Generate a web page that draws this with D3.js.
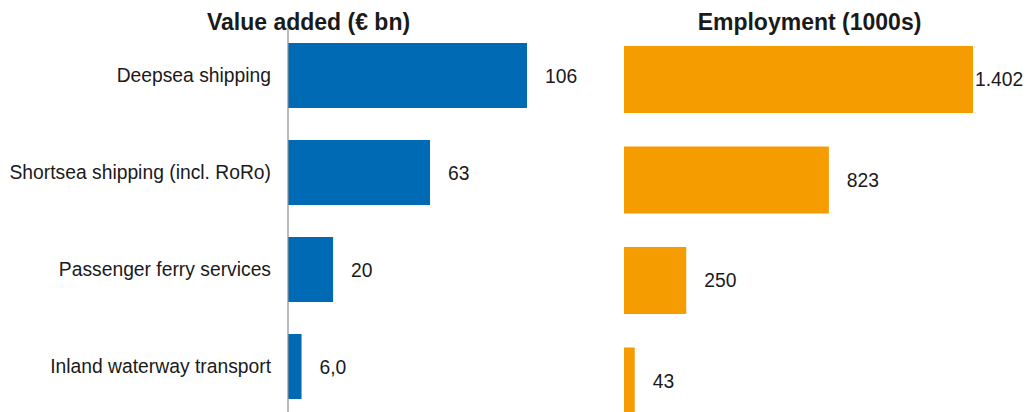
<!DOCTYPE html>
<html>
<head>
<meta charset="utf-8">
<script src="https://cdn.jsdelivr.net/npm/d3@7/dist/d3.min.js"></script>
<style>
  body { margin: 0; background: #fff; }
  text { font-family: "Liberation Sans", Arial, sans-serif; fill: #1a1a1a; }
</style>
</head>
<body>
<script>
const categories = ["Deepsea shipping", "Shortsea shipping (incl. RoRo)", "Passenger ferry services", "Inland waterway transport"];
const valueAdded = [106, 63, 20, 6.0];
const valueAddedLabels = ["106", "63", "20", "6,0"];
const employment = [1402, 823, 250, 43];
const employmentLabels = ["1.402", "823", "250", "43"];

const width = 1030, height = 412;

const svg = d3.select("body").append("svg")
    .attr("width", width)
    .attr("height", height);

// left panel: value added
const xL = d3.scaleLinear().domain([0, 106]).range([288, 527]);
const yL = d3.scaleBand().domain(categories).range([27, 415]).paddingInner(0.33).paddingOuter(0.165);

svg.append("text")
    .attr("x", 308.5).attr("y", 30)
    .attr("text-anchor", "middle")
    .style("font-size", "23px").style("font-weight", "bold")
    .text("Value added (€ bn)");

svg.selectAll(".barL")
    .data(valueAdded)
    .enter().append("rect")
    .attr("class", "barL")
    .attr("x", xL(0))
    .attr("y", (d, i) => yL(categories[i]))
    .attr("width", d => xL(d) - xL(0))
    .attr("height", yL.bandwidth())
    .attr("fill", "#006ab4");

svg.selectAll(".valL")
    .data(valueAdded)
    .enter().append("text")
    .attr("class", "valL")
    .attr("x", d => xL(d) + 18)
    .attr("y", (d, i) => yL(categories[i]) + yL.bandwidth() / 2 + 1)
    .attr("dy", "0.35em")
    .style("font-size", "19.3px")
    .text((d, i) => valueAddedLabels[i]);

svg.selectAll(".cat")
    .data(categories)
    .enter().append("text")
    .attr("class", "cat")
    .attr("x", 271)
    .attr("y", d => yL(d) + yL.bandwidth() / 2)
    .attr("dy", "0.35em")
    .attr("text-anchor", "end")
    .style("font-size", "19.3px")
    .text(d => d);

svg.append("line")
    .attr("x1", 288).attr("x2", 288)
    .attr("y1", 28).attr("y2", height)
    .attr("stroke", "#8c8c8c").attr("stroke-width", 1.2);

// right panel: employment
const xR = d3.scaleLinear().domain([0, 1402]).range([624, 973]);
const yR = d3.scaleBand().domain(categories).range([29.25, 431.25]).paddingInner(0.333).paddingOuter(0.1665);

svg.append("text")
    .attr("x", 809.5).attr("y", 30)
    .attr("text-anchor", "middle")
    .style("font-size", "23px").style("font-weight", "bold")
    .text("Employment (1000s)");

svg.selectAll(".barR")
    .data(employment)
    .enter().append("rect")
    .attr("class", "barR")
    .attr("x", xR(0))
    .attr("y", (d, i) => yR(categories[i]))
    .attr("width", d => xR(d) - xR(0))
    .attr("height", yR.bandwidth())
    .attr("fill", "#f59c00");

svg.selectAll(".valR")
    .data(employment)
    .enter().append("text")
    .attr("class", "valR")
    .attr("x", d => Math.min(xR(d) + 18, 975))
    .attr("y", (d, i) => yR(categories[i]) + yR.bandwidth() / 2)
    .attr("dy", "0.35em")
    .style("font-size", "19.3px")
    .text((d, i) => employmentLabels[i]);
</script>
</body>
</html>
